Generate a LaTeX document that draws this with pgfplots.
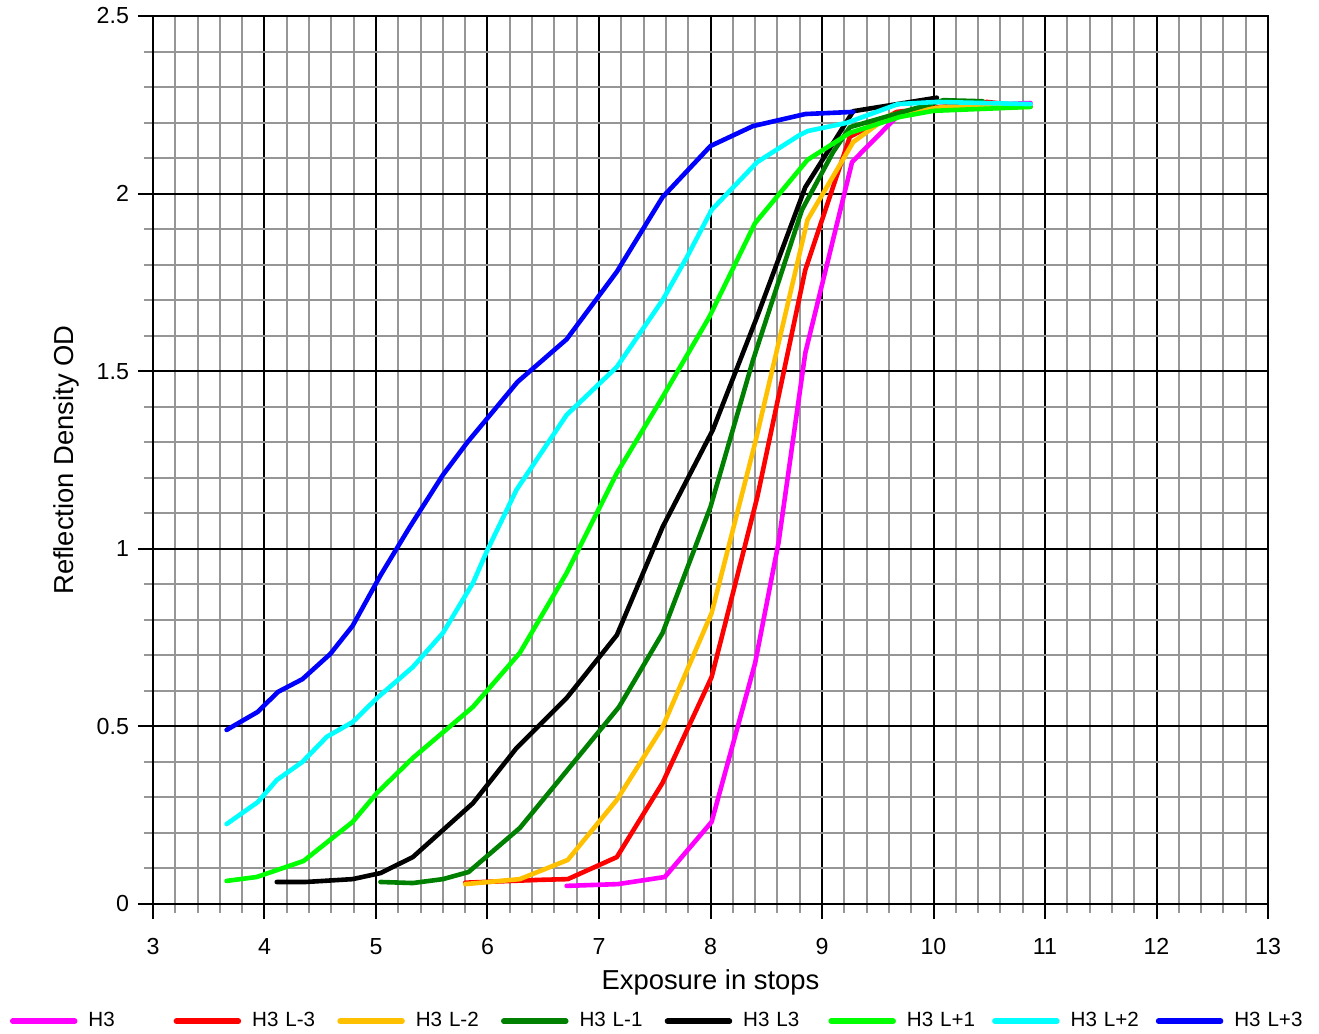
\documentclass[border=0pt]{standalone}
\usepackage{pgfplots}
\pgfplotsset{compat=1.18}
\usepackage{fontspec}
\setmainfont{Liberation Sans}
\definecolor{gridgray}{RGB}{150,150,150}
\definecolor{cMag}{RGB}{255,0,255}
\definecolor{cRed}{RGB}{255,0,0}
\definecolor{cOrange}{RGB}{255,192,0}
\definecolor{cDGreen}{RGB}{0,128,0}
\definecolor{cLime}{RGB}{0,255,0}
\definecolor{cCyan}{RGB}{0,255,255}
\definecolor{cBlue}{RGB}{0,0,255}
\begin{document}
\begin{tikzpicture}
\useasboundingbox (-76.5pt,-65pt) rectangle (583pt,452pt);
\begin{axis}[
  at={(0pt,0pt)}, anchor=south west,
  scale only axis, width=557.5pt, height=444pt,
  xmin=3, xmax=13, ymin=0, ymax=2.5,
  xtick={3,4,...,13}, ytick={0,0.5,1,1.5,2,2.5},
  minor x tick num=4, minor y tick num=4,
  grid=both,
  major grid style={black, line width=1pt},
  minor grid style={gridgray, line width=1pt},
  tick align=outside, tick pos=left,
  major tick length=7.5pt, minor tick length=4.5pt,
  every major tick/.style={black, line width=1pt},
  every minor tick/.style={gridgray, line width=1pt},
  axis line style={black, line width=1pt},
  tick label style={font=\fontsize{11.6}{13}\selectfont},
  xticklabel style={yshift=-6pt},
  yticklabel style={xshift=-1pt},
  /pgf/number format/assume math mode=true,
  xlabel={Exposure in stops}, ylabel={Reflection Density OD},
  label style={font=\fontsize{13.7}{15}\selectfont},
  xlabel style={at={(0.5,-0.0885)}, anchor=center},
  ylabel style={at={(-0.0780,0.5)}, anchor=center},
  legend columns=8,
  legend image code/.code={\draw[#1, line width=2.75pt, line cap=round] (0pt,0pt) -- (31pt,0pt);},
  legend style={draw=none, fill=none, inner sep=0pt, outer sep=0pt,
    at={(-0.1283,-0.1320)}, anchor=west,
    font=\fontsize{10.3}{12}\selectfont,
    nodes={inner xsep=0pt, inner ysep=1pt, text width=36pt, align=left},
    /tikz/every odd column/.style={column sep=5.5pt},
    /tikz/every even column/.style={column sep=6.6pt}},
  every axis plot/.append style={line width=2.3pt, line join=round, line cap=round},
]
\addplot[cMag] coordinates {(6.71,0.051) (7.17,0.056) (7.59,0.076) (8.01,0.231) (8.40,0.678) (8.61,1.017) (8.85,1.551) (9.27,2.089) (9.67,2.216) (10.06,2.244) (10.87,2.255)};
\addlegendentry{H3}
\addplot[cRed] coordinates {(5.80,0.060) (6.47,0.068) (6.72,0.070) (7.16,0.132) (7.57,0.341) (8.01,0.639) (8.42,1.146) (8.85,1.785) (9.25,2.160) (9.67,2.230) (10.48,2.258) (10.87,2.245)};
\addlegendentry{H3 L-3}
\addplot[cOrange] coordinates {(5.80,0.056) (6.29,0.070) (6.72,0.124) (7.16,0.293) (7.57,0.498) (8.01,0.819) (8.40,1.298) (8.87,1.926) (9.28,2.145) (9.61,2.221) (10.09,2.244) (10.84,2.244)};
\addlegendentry{H3 L-2}
\addplot[cDGreen] coordinates {(5.04,0.062) (5.33,0.059) (5.60,0.070) (5.83,0.090) (6.29,0.214) (6.74,0.386) (7.18,0.555) (7.57,0.763) (8.00,1.118) (8.38,1.530) (8.82,1.954) (9.10,2.117) (9.25,2.187) (10.09,2.263) (10.44,2.260)};
\addlegendentry{H3 L-1}
\addplot[black] coordinates {(4.11,0.062) (4.37,0.062) (4.79,0.070) (5.04,0.087) (5.33,0.132) (5.87,0.284) (6.26,0.439) (6.71,0.580) (7.16,0.757) (7.57,1.061) (8.02,1.334) (8.42,1.655) (8.85,2.018) (9.28,2.232) (10.03,2.270)};
\addlegendentry{H3 L3}
\addplot[cLime] coordinates {(3.66,0.065) (3.93,0.076) (4.35,0.121) (4.79,0.231) (5.01,0.313) (5.33,0.411) (5.87,0.555) (6.29,0.707) (6.71,0.932) (7.16,1.213) (7.57,1.427) (7.99,1.653) (8.40,1.917) (8.87,2.095) (9.25,2.171) (9.70,2.216) (10.00,2.233) (10.87,2.244)};
\addlegendentry{H3 L+1}
\addplot[cCyan] coordinates {(3.66,0.225) (3.94,0.287) (4.11,0.349) (4.34,0.400) (4.56,0.471) (4.79,0.512) (5.01,0.580) (5.33,0.667) (5.60,0.763) (5.87,0.904) (6.00,0.997) (6.26,1.166) (6.71,1.377) (7.16,1.512) (7.57,1.700) (7.79,1.822) (8.01,1.954) (8.42,2.089) (8.80,2.165) (8.87,2.176) (9.22,2.199) (9.68,2.252) (10.03,2.258) (10.87,2.252)};
\addlegendentry{H3 L+2}
\addplot[cBlue] coordinates {(3.66,0.490) (3.94,0.541) (4.12,0.597) (4.34,0.633) (4.59,0.704) (4.79,0.783) (5.04,0.925) (5.30,1.060) (5.60,1.208) (5.82,1.300) (6.27,1.470) (6.71,1.590) (7.16,1.780) (7.57,1.990) (8.00,2.134) (8.38,2.190) (8.85,2.224) (9.28,2.230)};
\addlegendentry{H3 L+3}
\end{axis}
\end{tikzpicture}
\end{document}
